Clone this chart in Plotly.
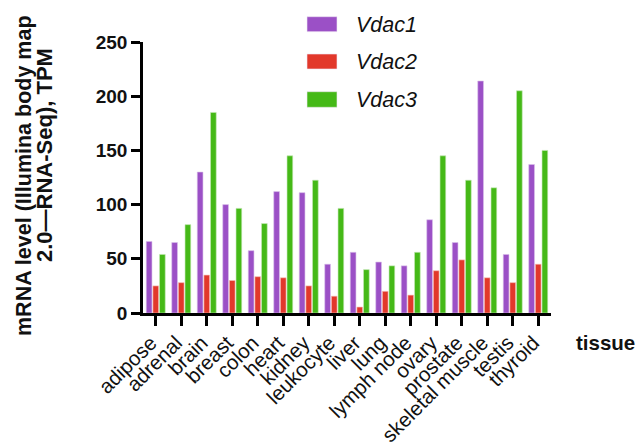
import plotly.graph_objects as go

tissues = ["adipose", "adrenal", "brain", "breast", "colon", "heart", "kidney",
           "leukocyte", "liver", "lung", "lymph node", "ovary", "prostate",
           "skeletal muscle", "testis", "thyroid"]
vdac1 = [66, 65, 130, 100, 57.5, 112, 111, 45, 56, 47, 43.5, 86, 65, 214, 54, 137]
vdac2 = [25, 28, 35, 30, 33.5, 32.5, 25, 15.5, 5.5, 20, 16.5, 39, 49, 32.5, 28, 45]
vdac3 = [54, 81.5, 185, 96.5, 82.5, 145, 122.5, 96.5, 40, 43.5, 56, 145, 122.5, 115.5, 205, 150]
series_names = ["Vdac1", "Vdac2", "Vdac3"]
colors = ["#9b50c6", "#e2382b", "#45b917"]
edge_colors = ["#d9bfea", "#f5c3bd", "#c4e8b5"]

W, H = 639, 447
ML, MT = 143, 42
PW, PH = 408, 271
MR, MB = W - ML - PW, H - MT - PH


def px(xs):
    return (xs - ML) / PW


def py(ys):
    return (MT + PH - ys) / PH


FONT = "Liberation Sans, Arial, sans-serif"

fig = go.Figure()
for name, vals, c, ec in zip(series_names, [vdac1, vdac2, vdac3], colors, edge_colors):
    fig.add_trace(go.Bar(x=tissues, y=vals, name=name,
                         marker=dict(color=c, line=dict(color=ec, width=0.6)),
                         showlegend=False, hoverinfo="skip"))

shapes = []
annotations = []
leg_rows = [(16.7, 31.7, 24.5), (54, 69, 62), (91.7, 107.3, 99.5)]
for (y0, y1, yc), name, c in zip(leg_rows, series_names, colors):
    shapes.append(dict(type="rect", xref="paper", yref="paper",
                       x0=px(307), x1=px(337), y0=py(y1), y1=py(y0),
                       fillcolor=c, line=dict(color="#f0e8f5", width=0.6)))
    annotations.append(dict(xref="paper", yref="paper", x=px(354), y=py(yc),
                            xanchor="left", yanchor="middle", showarrow=False,
                            text="<i>%s</i>" % name,
                            font=dict(family=FONT, size=21.5, color="#111")))

annotations.append(dict(xref="paper", yref="paper", x=px(605), y=py(342),
                        xanchor="center", yanchor="middle", showarrow=False,
                        text="<b>tissue</b>",
                        font=dict(family=FONT, size=20.5, color="#111")))
annotations.append(dict(xref="paper", yref="paper", x=px(24), y=py(176),
                        xanchor="center", yanchor="middle", showarrow=False,
                        textangle=-90,
                        text="<b>mRNA level (Illumina body map</b>",
                        font=dict(family=FONT, size=21.5, color="#111")))
annotations.append(dict(xref="paper", yref="paper", x=px(44), y=py(155),
                        xanchor="center", yanchor="middle", showarrow=False,
                        textangle=-90,
                        text="<b>2.0—RNA-Seq), TPM</b>",
                        font=dict(family=FONT, size=22, color="#111")))

fig.update_layout(
    width=W, height=H,
    margin=dict(l=ML, r=MR, t=MT, b=MB, autoexpand=False),
    paper_bgcolor="white", plot_bgcolor="white",
    barmode="group", bargap=0.22, bargroupgap=0.14,
    shapes=shapes, annotations=annotations,
    font=dict(family=FONT, color="#111"),
)
fig.update_yaxes(range=[0, 250], dtick=50, showgrid=False, zeroline=False,
                 showline=True, linewidth=2.5, linecolor="black",
                 ticks="outside", ticklen=9, tickwidth=2.5, tickcolor="black",
                 tickfont=dict(family=FONT, size=19, color="#111", weight="bold"))
fig.update_xaxes(type="category", range=[-0.5, 15.5], showgrid=False,
                 showline=True, linewidth=2.5, linecolor="black",
                 ticks="outside", ticklen=10, tickwidth=2.5, tickcolor="black",
                 tickangle=-45, ticklabelshift=-5, ticklabelstandoff=-3,
                 tickfont=dict(family=FONT, size=20.5, color="#111"))

# remove the default page margin so the 639x447 figure fills the window exactly
fig.write_html("out.html",
               config={"displayModeBar": False},
               post_script="document.body.style.margin='0px';"
                           "document.body.style.overflow='hidden';")
